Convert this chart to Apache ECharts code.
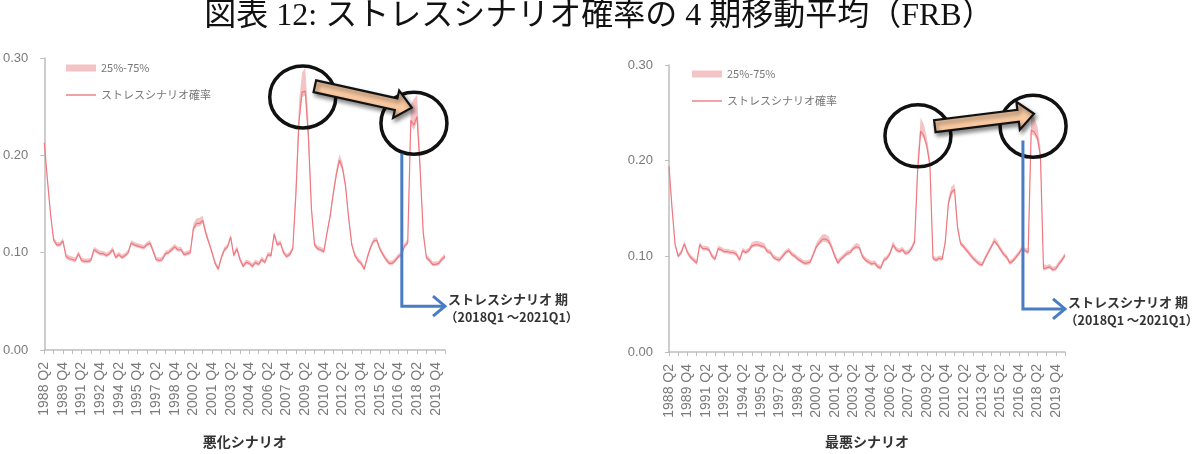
<!DOCTYPE html>
<html><head><meta charset="utf-8">
<script src="https://cdn.jsdelivr.net/npm/echarts@6/dist/echarts.min.js"></script>
<style>html,body{margin:0;padding:0;background:#fff}#c{width:1198px;height:454px}</style>
</head><body><div id="c"></div>
<script>
// ---------- text ----------
const titleText = '図表 12: ストレスシナリオ確率の 4 期移動平均（FRB）';
const panelNames = ['悪化シナリオ', '最悪シナリオ'];
const legendNames = ['25%-75%', 'ストレスシナリオ確率'];
const noteLines = ['ストレスシナリオ 期', '（2018Q1 ～2021Q1）'];
const yTicks = [0, 0.1, 0.2, 0.3];

// ---------- categories (quarters, 1988 Q2 ...) ----------
const startYear = 1988, startQuarter = 2, periods = 130;
const quarters = [];
for (let k = 0; k < periods; k++) {
  const q = startQuarter - 1 + k;
  quarters.push((startYear + Math.floor(q / 4)) + ' Q' + (q % 4 + 1));
}

// ---------- data: 悪化シナリオ ----------
const adverseMid = [
0.213,0.175,0.140,0.113,0.108,0.108,0.112,0.096,0.094,0.093,
0.092,0.099,0.092,0.091,0.091,0.092,0.103,0.101,0.099,0.099,
0.097,0.099,0.103,0.095,0.098,0.095,0.097,0.100,0.110,0.108,
0.107,0.106,0.105,0.108,0.110,0.102,0.093,0.092,0.093,0.099,
0.100,0.103,0.106,0.103,0.103,0.098,0.099,0.100,0.125,0.130,
0.130,0.133,0.120,0.110,0.100,0.089,0.083,0.095,0.103,0.106,
0.116,0.097,0.104,0.093,0.086,0.090,0.089,0.086,0.090,0.088,
0.093,0.090,0.098,0.097,0.119,0.108,0.110,0.100,0.096,0.098,
0.104,0.160,0.235,0.265,0.266,0.220,0.145,0.108,0.104,0.103,
0.101,0.120,0.137,0.160,0.180,0.195,0.187,0.168,0.135,0.108,
0.097,0.092,0.089,0.083,0.095,0.105,0.112,0.113,0.104,0.098,
0.093,0.089,0.089,0.092,0.096,0.098,0.107,0.110,0.236,0.231,
0.240,0.185,0.120,0.095,0.092,0.088,0.088,0.089,0.093,0.096];
const adverseQ25 = [
0.211,0.173,0.138,0.111,0.106,0.106,0.110,0.094,0.092,0.091,
0.090,0.097,0.090,0.089,0.089,0.090,0.101,0.099,0.097,0.097,
0.095,0.097,0.101,0.093,0.096,0.093,0.095,0.098,0.108,0.106,
0.105,0.104,0.103,0.106,0.108,0.100,0.091,0.090,0.091,0.097,
0.098,0.101,0.104,0.101,0.101,0.096,0.097,0.098,0.122,0.127,
0.127,0.130,0.117,0.108,0.098,0.087,0.081,0.093,0.101,0.104,
0.114,0.095,0.102,0.091,0.084,0.088,0.087,0.084,0.088,0.086,
0.091,0.088,0.096,0.095,0.116,0.106,0.108,0.098,0.094,0.096,
0.102,0.157,0.230,0.260,0.261,0.215,0.142,0.106,0.102,0.101,
0.099,0.118,0.135,0.157,0.177,0.192,0.184,0.165,0.133,0.106,
0.095,0.090,0.087,0.081,0.093,0.103,0.110,0.111,0.102,0.096,
0.091,0.087,0.087,0.090,0.094,0.096,0.105,0.108,0.231,0.226,
0.235,0.181,0.118,0.093,0.090,0.086,0.086,0.087,0.091,0.094];
const adverseQ75 = [
0.216,0.178,0.143,0.116,0.111,0.111,0.115,0.099,0.097,0.096,
0.095,0.102,0.095,0.094,0.094,0.095,0.106,0.104,0.102,0.102,
0.100,0.102,0.106,0.098,0.101,0.098,0.100,0.103,0.113,0.111,
0.110,0.109,0.108,0.111,0.113,0.105,0.096,0.095,0.096,0.102,
0.103,0.106,0.109,0.106,0.106,0.101,0.102,0.103,0.130,0.135,
0.136,0.138,0.124,0.113,0.103,0.092,0.086,0.098,0.106,0.109,
0.119,0.100,0.107,0.096,0.089,0.093,0.092,0.089,0.093,0.091,
0.096,0.093,0.101,0.100,0.122,0.111,0.113,0.103,0.099,0.101,
0.107,0.175,0.255,0.285,0.290,0.240,0.152,0.111,0.107,0.106,
0.104,0.123,0.141,0.165,0.186,0.201,0.193,0.172,0.139,0.111,
0.100,0.095,0.092,0.086,0.098,0.108,0.115,0.116,0.107,0.101,
0.096,0.092,0.092,0.095,0.099,0.101,0.110,0.114,0.252,0.258,
0.262,0.200,0.125,0.098,0.095,0.091,0.091,0.092,0.096,0.099];

// ---------- data: 最悪シナリオ ----------
const severeMid = [
0.194,0.150,0.112,0.100,0.104,0.113,0.104,0.099,0.096,0.093,
0.112,0.108,0.108,0.107,0.100,0.097,0.108,0.107,0.105,0.105,
0.104,0.104,0.102,0.096,0.106,0.104,0.106,0.111,0.112,0.112,
0.111,0.110,0.105,0.104,0.099,0.097,0.096,0.100,0.104,0.106,
0.102,0.100,0.097,0.095,0.093,0.093,0.094,0.102,0.110,0.114,
0.118,0.118,0.116,0.109,0.100,0.093,0.097,0.100,0.103,0.104,
0.108,0.110,0.109,0.100,0.096,0.094,0.092,0.093,0.089,0.088,
0.096,0.098,0.103,0.112,0.107,0.105,0.107,0.103,0.104,0.108,
0.115,0.190,0.231,0.226,0.215,0.195,0.098,0.096,0.098,0.097,
0.115,0.155,0.167,0.170,0.130,0.113,0.110,0.106,0.102,0.098,
0.095,0.092,0.091,0.098,0.104,0.110,0.116,0.112,0.107,0.102,
0.099,0.093,0.095,0.099,0.103,0.108,0.106,0.104,0.232,0.230,
0.224,0.205,0.087,0.088,0.089,0.086,0.087,0.092,0.096,0.101];
const severeQ25 = [
0.192,0.148,0.110,0.098,0.102,0.111,0.102,0.097,0.094,0.091,
0.110,0.106,0.106,0.105,0.098,0.095,0.106,0.105,0.103,0.103,
0.102,0.102,0.100,0.094,0.104,0.102,0.104,0.109,0.110,0.110,
0.109,0.108,0.103,0.102,0.097,0.095,0.094,0.098,0.102,0.104,
0.100,0.098,0.095,0.093,0.091,0.091,0.092,0.100,0.108,0.112,
0.115,0.115,0.113,0.107,0.098,0.091,0.095,0.098,0.101,0.102,
0.106,0.108,0.107,0.098,0.094,0.092,0.090,0.091,0.087,0.086,
0.094,0.096,0.101,0.110,0.105,0.103,0.105,0.101,0.102,0.106,
0.113,0.186,0.228,0.223,0.212,0.192,0.096,0.094,0.096,0.095,
0.113,0.152,0.164,0.167,0.127,0.111,0.108,0.104,0.100,0.096,
0.093,0.090,0.089,0.096,0.102,0.108,0.114,0.110,0.105,0.100,
0.097,0.091,0.093,0.097,0.101,0.106,0.104,0.102,0.228,0.226,
0.220,0.201,0.085,0.086,0.087,0.084,0.085,0.090,0.094,0.099];
const severeQ75 = [
0.197,0.153,0.115,0.103,0.107,0.116,0.107,0.102,0.099,0.096,
0.115,0.111,0.111,0.110,0.103,0.100,0.111,0.110,0.108,0.108,
0.107,0.107,0.105,0.099,0.109,0.107,0.109,0.115,0.116,0.116,
0.115,0.114,0.108,0.107,0.102,0.100,0.099,0.103,0.107,0.109,
0.105,0.103,0.100,0.098,0.096,0.096,0.097,0.105,0.114,0.119,
0.123,0.123,0.121,0.113,0.104,0.097,0.100,0.103,0.106,0.107,
0.111,0.114,0.113,0.103,0.099,0.097,0.095,0.096,0.092,0.091,
0.099,0.101,0.106,0.116,0.110,0.108,0.110,0.106,0.107,0.111,
0.119,0.205,0.245,0.238,0.224,0.203,0.101,0.099,0.101,0.100,
0.119,0.161,0.173,0.176,0.134,0.116,0.113,0.109,0.105,0.101,
0.098,0.095,0.094,0.101,0.107,0.113,0.120,0.116,0.110,0.105,
0.102,0.096,0.098,0.102,0.106,0.111,0.109,0.108,0.248,0.245,
0.236,0.214,0.092,0.091,0.092,0.089,0.090,0.095,0.099,0.104];

// ---------- annotation anchors (category index, value) ----------
const adverseNotes = {circles: [[83.2, 0.260], [119.0, 0.233]], arrow: [[87.1, 0.271], [118.3, 0.249]],
  bracket: [[115.1, 0.202], [115.1, 0.045], [129, 0.045]]};
const severeNotes = {circles: [[81.1, 0.226], [118.6, 0.236]], arrow: [[86.6, 0.236], [118.9, 0.249]],
  bracket: [[115.3, 0.221], [115.3, 0.045], [129, 0.045]]};

// ---------- styles ----------
const LINE = '#ee7880', BAND = '#f4c3c5', AXIS = '#bdbdbd', LABEL = '#7a7a7a';
const JP = "'Noto Sans CJK JP', sans-serif";
const grids = [
  {left: 44, top: 58, width: 401, height: 297},
  {left: 669, top: 65, width: 396, height: 292}
];
const panels = [
  {mid: adverseMid, q25: adverseQ25, q75: adverseQ75, notes: adverseNotes},
  {mid: severeMid, q25: severeQ25, q75: severeQ75, notes: severeNotes}
];

const chart = echarts.init(document.getElementById('c'), null, {renderer: 'canvas'});
const xAxes = [], yAxes = [], series = [];
panels.forEach((p, g) => {
  xAxes.push({
    type: 'category', gridIndex: g, data: quarters, boundaryGap: false,
    name: panelNames[g], nameLocation: 'middle', nameGap: g === 0 ? 85 : 83,
    nameTextStyle: {fontFamily: JP, fontSize: 14, fontWeight: 'bold', color: '#333'},
    axisLine: {lineStyle: {color: AXIS, width: 1.5}},
    axisTick: {interval: 2, length: 4, lineStyle: {color: AXIS}},
    axisLabel: {interval: 5, rotate: 90, fontSize: 14, color: LABEL, margin: 12, fontFamily: 'Liberation Sans'},
    splitLine: {show: false}
  });
  yAxes.push({
    type: 'value', gridIndex: g, min: yTicks[0], max: yTicks[yTicks.length - 1], interval: 0.1,
    axisLine: {show: true, lineStyle: {color: AXIS, width: 1.5}},
    axisTick: {show: true, length: 4, lineStyle: {color: AXIS}},
    axisLabel: {formatter: v => v.toFixed(2), fontSize: 13, color: LABEL, margin: 16, fontFamily: 'Liberation Sans'},
    splitLine: {show: false}
  });
  series.push({
    type: 'line', xAxisIndex: g, yAxisIndex: g, stack: 'band' + g, data: p.q25,
    symbol: 'none', lineStyle: {opacity: 0}, silent: true, z: 1
  });
  series.push({
    name: legendNames[0], type: 'line', xAxisIndex: g, yAxisIndex: g, stack: 'band' + g,
    data: p.q75.map((v, k) => +(v - p.q25[k]).toFixed(4)),
    symbol: 'none', lineStyle: {opacity: 0}, areaStyle: {color: BAND, opacity: 1}, itemStyle: {color: BAND}, z: 1
  });
  series.push({
    name: legendNames[1], type: 'line', xAxisIndex: g, yAxisIndex: g, data: p.mid,
    symbol: 'none', lineStyle: {color: LINE, width: 1.2}, itemStyle: {color: LINE}, z: 2
  });
});

const legendCommon = {
  orient: 'vertical', itemWidth: 30, itemHeight: 7, itemGap: 13,
  textStyle: {fontFamily: JP, fontSize: 11, color: '#777', lineHeight: 14},
  data: [{name: legendNames[0], icon: 'rect', itemStyle: {color: BAND}},
         {name: legendNames[1], icon: 'path://M0,0 L30,0 L30,1.4 L0,1.4 Z', itemStyle: {color: LINE}}],
  selectedMode: false
};

chart.setOption({
  backgroundColor: '#fff',
  animation: false,
  title: {text: titleText, left: 'center', top: -4,
    textStyle: {fontFamily: "'Liberation Serif', 'Noto Sans CJK JP', serif", fontSize: 32, fontWeight: 'normal', color: '#111'}},
  grid: grids,
  legend: [Object.assign({left: 61, top: 56}, legendCommon), Object.assign({left: 687, top: 62}, legendCommon)],
  xAxis: xAxes, yAxis: yAxes, series: series
});

// ---------- annotations anchored to data coordinates ----------
function toPx(g, pt) {
  const a = chart.convertToPixel({gridIndex: g}, [0, pt[1]]);
  const b = chart.convertToPixel({gridIndex: g}, [1, pt[1]]);
  return [a[0] + pt[0] * (b[0] - a[0]), a[1]];
}
function arrowPts(a, b, sw, hw, hl) {
  const dx = b[0] - a[0], dy = b[1] - a[1], L = Math.hypot(dx, dy);
  const ux = dx / L, uy = dy / L, nx = -uy, ny = ux;
  const bx = b[0] - ux * hl, by = b[1] - uy * hl;
  return [[a[0] + nx * sw, a[1] + ny * sw], [bx + nx * sw, by + ny * sw], [bx + nx * hw, by + ny * hw],
    [b[0], b[1]], [bx - nx * hw, by - ny * hw], [bx - nx * sw, by - ny * sw], [a[0] - nx * sw, a[1] - ny * sw]];
}
const graphics = [];
panels.forEach((p, g) => {
  const n = p.notes;
  n.circles.forEach(c => {
    const q = toPx(g, c);
    graphics.push({type: 'ellipse', shape: {cx: q[0], cy: q[1], rx: 33, ry: 31}, z: 100,
      style: {fill: 'none', stroke: '#111', lineWidth: 3.5}});
  });
  const a0 = toPx(g, n.arrow[0]), a1 = toPx(g, n.arrow[1]);
  graphics.push({type: 'polygon', shape: {points: arrowPts(a0, a1, 6, 14, 16)}, z: 101,
    style: {fill: '#f8c9a2', stroke: '#111', lineWidth: 2.2, shadowBlur: 4, shadowColor: 'rgba(0,0,0,0.45)', shadowOffsetX: 2, shadowOffsetY: 3}});
  const br = n.bracket.map(pt => toPx(g, pt));
  graphics.push({type: 'polyline', shape: {points: br}, z: 102, style: {stroke: '#4a7cc4', lineWidth: 3, fill: 'none'}});
  const tip = br[2];
  graphics.push({type: 'polyline', shape: {points: [[tip[0] - 12, tip[1] - 10], tip, [tip[0] - 12, tip[1] + 10]]}, z: 102,
    style: {stroke: '#4a7cc4', lineWidth: 3, fill: 'none'}});
  graphics.push({type: 'text', x: tip[0] + 3, y: tip[1] - 7, z: 103,
    style: {text: noteLines[0], font: "bold 13px 'Noto Sans CJK JP'", fill: '#333', textVerticalAlign: 'middle'}});
  graphics.push({type: 'text', x: tip[0], y: tip[1] + 11, z: 103,
    style: {text: noteLines[1], font: "bold 12.5px 'Noto Sans CJK JP'", fill: '#333', textVerticalAlign: 'middle'}});
});
chart.setOption({graphic: graphics});
</script></body></html>
